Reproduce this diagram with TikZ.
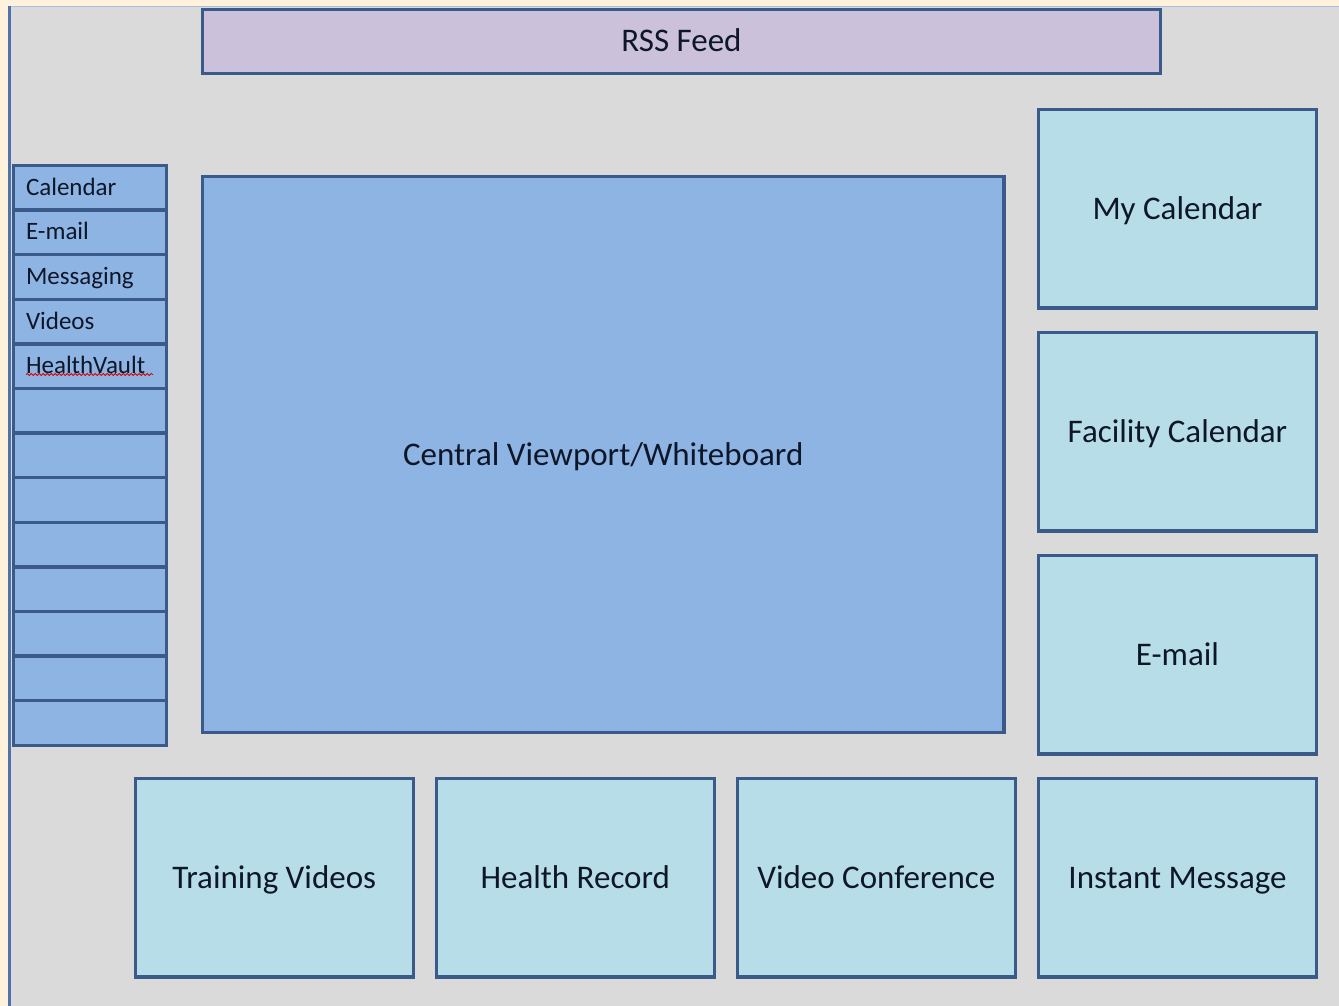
\documentclass[tikz,border=0pt]{standalone}
\usepackage{fontspec}
\setmainfont{Carlito}
\usetikzlibrary{decorations.pathmorphing}
\definecolor{cream}{HTML}{FEF2DD}
\definecolor{panel}{HTML}{DADADA}
\definecolor{edge}{HTML}{3A5A8A}
\definecolor{lav}{HTML}{CCC1DA}
\definecolor{midblue}{HTML}{8EB4E3}
\definecolor{lightblue}{HTML}{B7DDE8}
\definecolor{ink}{HTML}{0E1729}
\definecolor{leftline}{HTML}{4F73A8}
\definecolor{topline}{HTML}{A9BEDD}
\tikzset{
  x=1pt, y=-1pt,
  box/.style={draw=edge, line width=3.5pt, inner sep=0pt, text=ink,
    font=\fontsize{33}{36}\selectfont, text height=24pt, text depth=3pt},
  menubox/.style={box, fill=midblue, minimum width=153pt, minimum height=44.6pt,
    font=\fontsize{25}{28}\selectfont, text height=17pt, text depth=2pt,
    align=left, text width=128pt},
  tile/.style={box, fill=lightblue, minimum width=278pt, minimum height=198.5pt},
}
\begin{document}
\begin{tikzpicture}
\useasboundingbox (0,0) rectangle (1339,1006);
\fill[cream] (0,0) rectangle (1339,1006);
\fill[panel] (9,6) rectangle (1339,1006);
\draw[topline, line width=1pt] (9,6.5) -- (1339,6.5);
\draw[leftline, line width=3pt] (9.5,6) -- (9.5,1006);

\node[box, fill=lav, minimum width=958pt, minimum height=64pt] (rss) at (681.5,41.5) {RSS Feed};

\foreach \i/\t in {0/Calendar,1/E-mail,2/Messaging,3/Videos,4/HealthVault,5/,6/,7/,8/,9/,10/,11/,12/}{
  \node[menubox] (m\i) at (90,{165.5+44.6*(\i+0.5)}) {\t};
}
\draw[red!85!black, line width=0.8pt, decorate,
  decoration={snake, segment length=4pt, amplitude=1pt}] (26,374.5) -- (153,374.5);

\node[box, fill=midblue, minimum width=801.5pt, minimum height=556pt] (central) at (603.25,454.5) {Central Viewport/Whiteboard};

\node[tile] (mycal) at (1177.5,208.75) {My Calendar};
\node[tile] (faccal) at (1177.5,431.75) {Facility Calendar};
\node[tile] (email) at (1177.5,654.75) {E-mail};
\node[tile] (training) at (274.25,877.75) {Training Videos};
\node[tile] (health) at (575.25,877.75) {Health Record};
\node[tile] (video) at (876.25,877.75) {Video Conference};
\node[tile] (instant) at (1177.5,877.75) {Instant Message};
\end{tikzpicture}
\end{document}
